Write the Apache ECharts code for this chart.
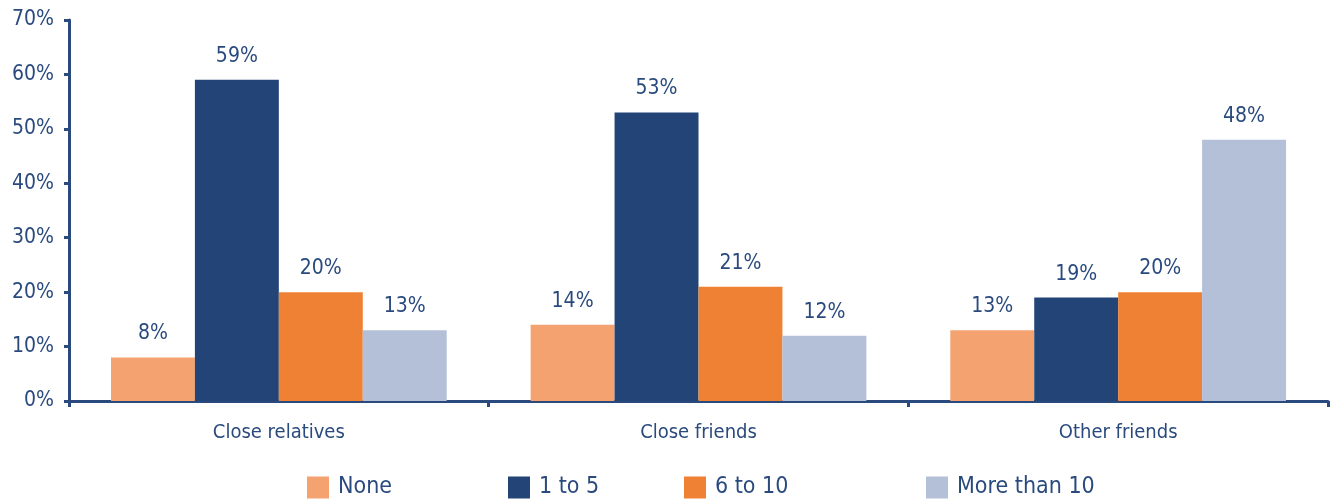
<!DOCTYPE html>
<html><head><meta charset="utf-8">
<script src="https://cdn.jsdelivr.net/npm/echarts@6/dist/echarts.min.js"></script>
<style>html,body{margin:0;padding:0;background:#fff}#c{width:1335px;height:501px}</style>
</head><body><div id="c"></div>
<script>
const categories = ["Close relatives", "Close friends", "Other friends"];
const seriesNames = ["None", "1 to 5", "6 to 10", "More than 10"];
const noneVals = [8, 14, 13];
const oneToFiveVals = [59, 53, 19];
const sixToTenVals = [20, 21, 20];
const moreThanTenVals = [13, 12, 48];
const yTicks = [0, 10, 20, 30, 40, 50, 60, 70];

const colors = ["#F4A370", "#234477", "#EE8133", "#B3C0D7"];
const txt = "#2A4A7E";
const font = "'DejaVu Sans Condensed', 'Liberation Sans Narrow', sans-serif";
const allVals = [noneVals, oneToFiveVals, sixToTenVals, moreThanTenVals];
const legendLefts = [307, 508, 684, 926];

const chart = echarts.init(document.getElementById('c'));
chart.setOption({
  animation: false,
  color: colors,
  grid: { left: 69, right: 7, top: 20, bottom: 100, containLabel: false },
  legend: seriesNames.map((n, i) => ({
    data: [n], left: legendLefts[i], top: 476, padding: 0, itemWidth: 22, itemHeight: 22, itemGap: 8,
    icon: 'rect', textStyle: { color: txt, fontSize: 23, fontFamily: font, padding: [0, 0, 0, 4] }, selectedMode: false
  })),
  xAxis: {
    type: 'category', data: categories,
    axisLine: { lineStyle: { color: txt, width: 3 } },
    axisTick: { show: true, length: 6, lineStyle: { color: txt, width: 3 } },
    axisLabel: { color: txt, fontSize: 20, fontFamily: font, margin: 22 }
  },
  yAxis: {
    type: 'value', min: yTicks[0], max: yTicks[yTicks.length - 1], interval: 10,
    axisLine: { show: true, lineStyle: { color: txt, width: 3 } },
    axisTick: { show: true, length: 5, lineStyle: { color: txt, width: 3 } },
    splitLine: { show: false },
    axisLabel: { color: txt, fontSize: 21, fontFamily: font, margin: 15, formatter: v => v + '%' }
  },
  series: seriesNames.map((n, i) => ({
    name: n, type: 'bar', data: allVals[i], barGap: '0%', barCategoryGap: '20%',
    label: { show: true, position: 'top', distance: 13, color: txt, fontSize: 21, fontFamily: font, formatter: p => p.value + '%' }
  }))
});
</script></body></html>
